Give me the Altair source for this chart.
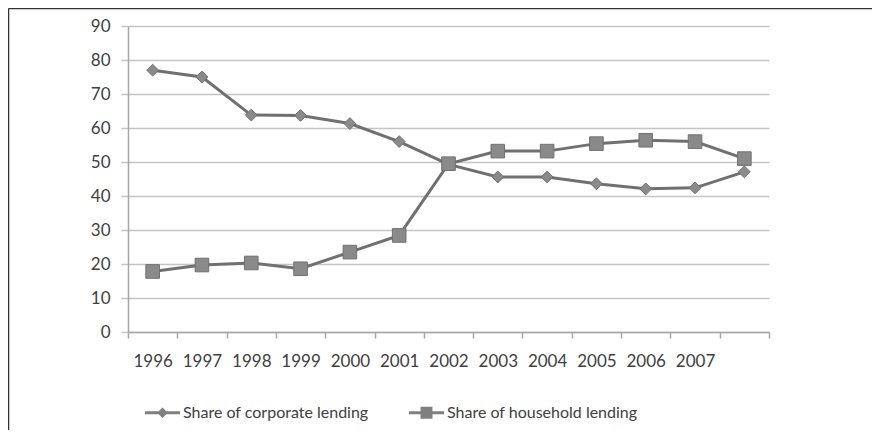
import altair as alt
import pandas as pd

years = ["1996", "1997", "1998", "1999", "2000", "2001", "2002",
         "2003", "2004", "2005", "2006", "2007", " "]
corporate = [77.0, 75.0, 63.8, 63.7, 61.3, 56.0, 49.3, 45.6, 45.6, 43.6, 42.1, 42.4, 47.1]
household = [17.8, 19.7, 20.3, 18.6, 23.5, 28.4, 49.5, 53.2, 53.2, 55.4, 56.4, 56.0, 51.0]
series_names = ["Share of corporate lending", "Share of household lending"]
y_ticks = [0, 10, 20, 30, 40, 50, 60, 70, 80, 90]

rows = []
for name, vals in zip(series_names, [corporate, household]):
    for yr, v in zip(years, vals):
        rows.append({"year": yr, "value": v, "series": name})
df = pd.DataFrame(rows)

W, H = 641, 306
LINE = "#707070"
FILL = "#8a8a8a"
TXT = "#404040"
FONT = "Lato"
FS = 17

x_enc = alt.X("year:O", sort=years,
              scale=alt.Scale(type="band", paddingInner=0, paddingOuter=0),
              axis=alt.Axis(title=None, labelAngle=0, tickBand="extent", grid=False,
                            domainColor="#a6a6a6", domainWidth=1.5,
                            tickColor="#a6a6a6", tickWidth=1.5, tickSize=6,
                            labelPadding=15, labelFontSize=FS, labelFont=FONT,
                            labelColor=TXT))
y_enc = alt.Y("value:Q", scale=alt.Scale(domain=[0, 90], nice=False),
              axis=alt.Axis(title=None, values=y_ticks, grid=True,
                            gridColor="#c4c4c4", gridWidth=1.5,
                            domainColor="#a6a6a6", domainWidth=1.5,
                            tickColor="#c4c4c4", tickWidth=1.5, tickSize=7,
                            labelPadding=11, labelFontSize=FS, labelFont=FONT,
                            labelColor=TXT))

base = alt.Chart(df)

lines = base.mark_line(color=LINE, strokeWidth=3).encode(
    x=x_enc, y=y_enc, detail="series:N")

points = base.mark_point(filled=True, fill=FILL, stroke=LINE, strokeWidth=1,
                         opacity=1).encode(
    x=x_enc, y=y_enc,
    shape=alt.Shape("series:N", scale=alt.Scale(domain=series_names,
                                                range=["diamond", "square"]),
                    legend=None),
    size=alt.Size("series:N", scale=alt.Scale(domain=series_names, range=[140, 185]),
                  legend=None))

legend_paths = [
    "M-1,-0.085H1V0.085H-1Z M0,-0.3L0.3,0L0,0.3L-0.3,0Z",
    "M-1,-0.085H1V0.085H-1Z M-0.34,-0.34H0.34V0.34H-0.34Z",
]
legend_layer = base.mark_point(filled=True, color="#7f7f7f", clip=True).encode(
    y=alt.value(-500),
    x=alt.value(10),
    shape=alt.Shape("series:N", title=None,
                    scale=alt.Scale(domain=series_names, range=legend_paths),
                    legend=alt.Legend(orient="none", legendX=17, legendY=369,
                                      direction="horizontal", columns=2,
                                      columnPadding=40, labelOffset=3,
                                      labelLimit=0,
                                      symbolSize=1225, symbolFillColor="#7f7f7f",
                                      symbolStrokeWidth=0, symbolOpacity=1,
                                      labelFont=FONT, labelFontSize=16,
                                      labelColor=TXT, title=None)))

frame_data = alt.Data(values=[{"k": 1}])
left_rule = alt.Chart(frame_data).mark_rule(color="#333333", strokeWidth=1.5,
                                            clip=False).encode(
    x=alt.value(-119.5), y=alt.value(-17.5), y2=alt.value(440))
top_rule = alt.Chart(frame_data).mark_rule(color="#333333", strokeWidth=1.5,
                                           clip=False).encode(
    x=alt.value(-119.5), x2=alt.value(760), y=alt.value(-17.5))

chart = alt.layer(lines, points, legend_layer, left_rule, top_rule).resolve_scale(
    shape="independent"
).properties(
    width=W, height=H,
    autosize=alt.AutoSizeParams(type="none"),
    padding={"left": 120, "top": 18, "right": 103, "bottom": 98},
    background="white",
).configure_view(stroke=None)

chart.save("out.html", embed_options={"renderer": "svg", "actions": False})
